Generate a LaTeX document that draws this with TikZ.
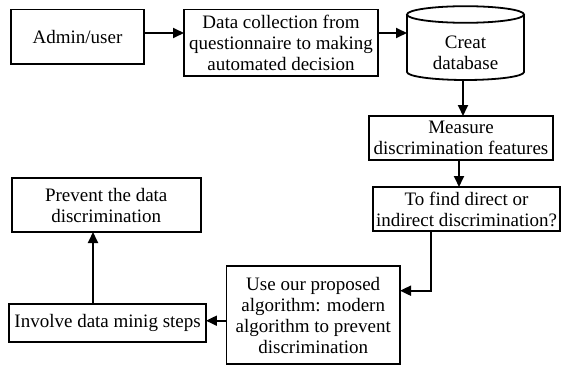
\documentclass[tikz,border=0pt]{standalone}
\usepackage{fontspec}
\setmainfont{Liberation Serif}
\usetikzlibrary{arrows.meta}
\begin{document}
\begin{tikzpicture}[x=1pt,y=1pt,
  boxnode/.style={draw, line width=1.8pt, inner sep=0pt, outer sep=0pt, align=center,
    font=\fontsize{19}{21}\selectfont},
  arr/.style={line width=1.8pt, -{Triangle[length=11pt,width=10pt]}}]
\useasboundingbox (0,0) rectangle (562,365);
% nodes
\node[boxnode, minimum width=133pt, minimum height=54.5pt] (admin) at (77.5,328.25) {Admin/user};
\node[boxnode, minimum width=194pt, minimum height=66.5pt] (data) at (281,322.25)
  {Data collection from\\questionnaire to making\\automated decision};
\node[inner sep=0pt, outer sep=0pt, minimum width=117pt, minimum height=74pt] (db) at (465.5,322) {};
\draw[line width=1.8pt] (407,350.5) -- (407,293) arc[start angle=180, end angle=360, x radius=58.5, y radius=8] -- (524,350.5);
\draw[line width=1.8pt] (465.5,350.5) ellipse[x radius=58.5, y radius=8.3];
\node[align=center, font=\fontsize{19}{21}\selectfont, inner sep=0pt] (dbtext) at (465.5,312) {Creat\\database};
\node[boxnode, minimum width=184pt, minimum height=44pt] (measure) at (461,227)
  {Measure\\discrimination features};
\node[boxnode, minimum width=187pt, minimum height=44pt] (find) at (466.5,156)
  {To find direct or\\indirect discrimination?};
\node[boxnode, minimum width=173.5pt, minimum height=98pt] (algo) at (313.25,50)
  {Use our proposed\\algorithm: modern\\algorithm to prevent\\discrimination};
\node[boxnode, minimum width=196.7pt, minimum height=38pt] (involve) at (107.6,42)
  {Involve data minig steps};
\node[boxnode, minimum width=189pt, minimum height=54pt] (prevent) at (106.2,160)
  {Prevent the data\\discrimination};
% helper coordinates
\coordinate (ay) at (0,332);
\coordinate (c1) at (463,0);
\coordinate (c2) at (459,0);
\coordinate (c3) at (431,74.3);
\coordinate (c4) at (0,44.3);
\coordinate (c5) at (93,0);
% connectors
\draw[arr] (admin.east |- ay) -- (data.west |- ay);
\draw[arr] (data.east |- ay) -- (db.west |- ay);
\draw[arr] (db.south -| c1) -- (measure.north -| c1);
\draw[arr] (measure.south -| c2) -- (find.north -| c2);
\draw[arr] (find.south -| c3) |- (algo.east |- c3);
\draw[arr] (algo.west |- c4) -- (involve.east |- c4);
\draw[arr] (involve.north -| c5) -- (prevent.south -| c5);
\end{tikzpicture}
\end{document}
